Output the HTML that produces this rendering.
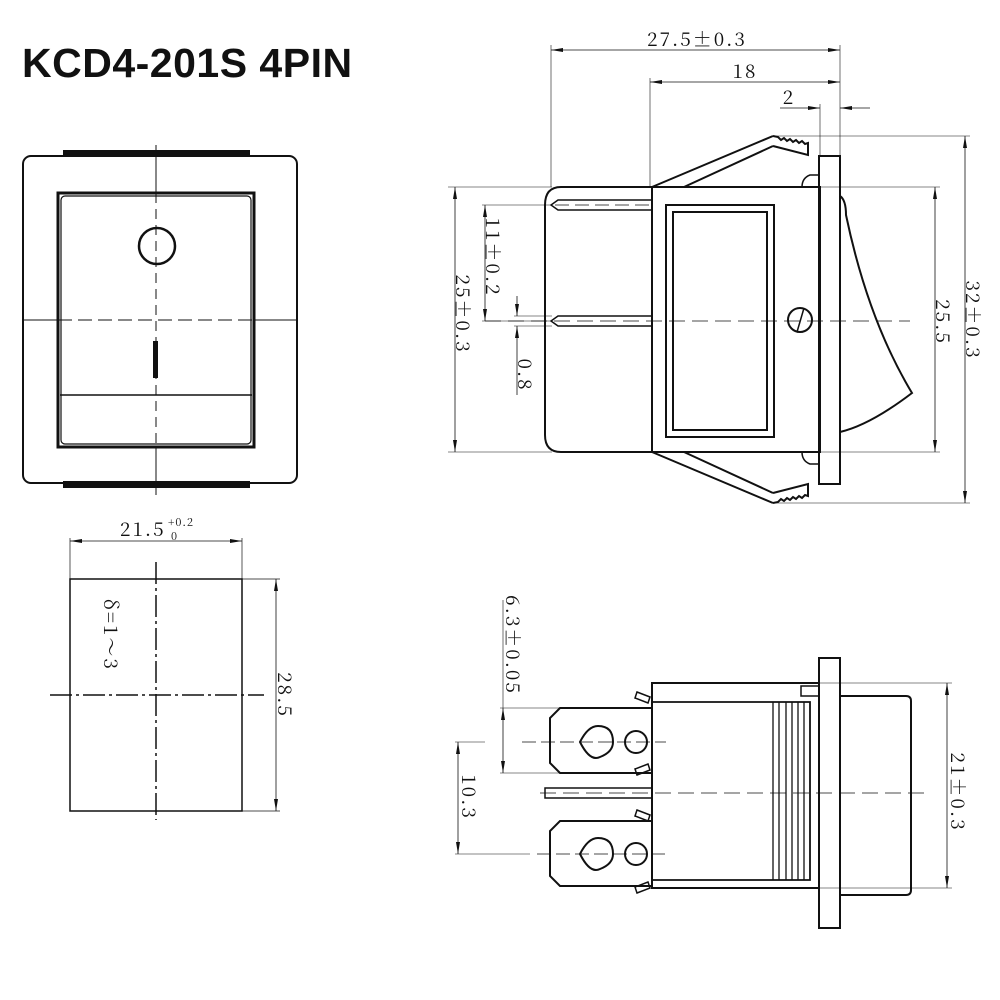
<!DOCTYPE html>
<html><head><meta charset="utf-8"><style>
html,body{margin:0;padding:0;background:#fff;}
svg{display:block;}
text{font-family:"Noto Serif CJK SC","Liberation Serif",serif;fill:#111;letter-spacing:2px;}
</style></head><body>
<svg width="1000" height="1000" viewBox="0 0 1000 1000" xmlns="http://www.w3.org/2000/svg">
<defs>
<marker id="a" viewBox="0 0 12 6" refX="12" refY="3" markerWidth="12" markerHeight="6" orient="auto-start-reverse" markerUnits="userSpaceOnUse"><path d="M0,1 L12,3 L0,5 Z" fill="#111"/></marker>
</defs>
<text x="22" y="77" style="font-family:'Liberation Sans',sans-serif;font-weight:bold;font-size:41px;letter-spacing:0.5px">KCD4-201S 4PIN</text>

<!-- FRONT VIEW -->
<g fill="none" stroke="#111">
<rect x="63" y="150" width="187" height="7" fill="#111" stroke="none"/>
<rect x="63" y="481" width="187" height="7" fill="#111" stroke="none"/>
<rect x="23" y="156" width="274" height="327" rx="8" stroke-width="2"/>
<rect x="58" y="193" width="196" height="254" stroke-width="3"/>
<rect x="61" y="196" width="190" height="248" rx="4" stroke-width="1.2"/>
<line x1="60" y1="395" x2="252" y2="395" stroke-width="1.5"/>
<circle cx="157" cy="246" r="18" stroke-width="2.5"/>
<rect x="153" y="341" width="5" height="37" fill="#111" stroke="none"/>
<line x1="156" y1="145" x2="156" y2="193" stroke-width="1"/>
<line x1="156" y1="193" x2="156" y2="447" stroke-width="1" stroke-dasharray="10,6"/>
<line x1="156" y1="447" x2="156" y2="495" stroke-width="1"/>
<line x1="23" y1="320" x2="58" y2="320" stroke-width="1"/>
<line x1="58" y1="320" x2="254" y2="320" stroke-width="1" stroke-dasharray="14,6"/>
<line x1="254" y1="320" x2="297" y2="320" stroke-width="1"/>
</g>

<!-- CUTOUT -->
<g fill="none" stroke="#111">
<rect x="70" y="579" width="172" height="232" stroke-width="1.5"/>
<line x1="156" y1="562" x2="156" y2="820" stroke-width="1.5" stroke-dasharray="22,4,3,4"/>
<line x1="50" y1="695" x2="264" y2="695" stroke-width="1.5" stroke-dasharray="22,4,3,4"/>
<line x1="70" y1="538" x2="70" y2="579" stroke-width="0.7"/>
<line x1="242" y1="538" x2="242" y2="579" stroke-width="0.7"/>
<line x1="70" y1="541" x2="242" y2="541" stroke-width="0.8" marker-start="url(#a)" marker-end="url(#a)"/>
<line x1="242" y1="579" x2="280" y2="579" stroke-width="0.7"/>
<line x1="242" y1="811" x2="280" y2="811" stroke-width="0.7"/>
<line x1="276" y1="579" x2="276" y2="811" stroke-width="0.8" marker-start="url(#a)" marker-end="url(#a)"/>
</g>
<text x="120" y="536" font-size="19">21.5</text>
<text x="168" y="526" font-size="11" style="letter-spacing:1px">+0.2</text>
<text x="171" y="540" font-size="11">0</text>
<text transform="translate(278,695) rotate(90)" font-size="19" text-anchor="middle">28.5</text>
<text transform="translate(104,635) rotate(90)" font-size="19" text-anchor="middle">δ=1～3</text>

<!-- SIDE VIEW -->
<g fill="none" stroke="#111" stroke-width="2">
<path d="M652,187 L561,187 Q545,187 545,205 L545,435 Q545,452 561,452 L652,452"/>
<rect x="652" y="187" width="168" height="265"/>
<rect x="666" y="205" width="108" height="232"/>
<rect x="673" y="212" width="94" height="218"/>
<rect x="819" y="156" width="21" height="328"/>
<path d="M840,196 Q846,200 846,215 Q868,320 912,393 Q870,425 840,432"/>
<path d="M652,187 L773,136 M684,187 L773,146"/>
<path d="M773,136 L778,137 L781,140 L784,138 L787,141 L790,139 L793,142 L796,140 L799,143 L802,141 L805,144 L808,143 L808,155 L773,146"/>
<path d="M652,452 L773,503 M684,452 L773,493"/>
<path d="M773,503 L778,502 L781,499 L784,501 L787,498 L790,500 L793,497 L796,499 L799,496 L802,498 L805,495 L808,496 L808,484 L773,493"/>
<path d="M819,175 L810,175 Q802,178 802,187" stroke-width="1.5"/>
<path d="M819,464 L810,464 Q802,461 802,452" stroke-width="1.5"/>
<path d="M652,200 L558,200 L551,205 L558,210 L652,210" stroke-width="1.5"/>
<path d="M652,316 L558,316 L551,321 L558,326 L652,326" stroke-width="1.5"/>
<circle cx="800" cy="320" r="12" stroke-width="2"/>
<line x1="797" y1="332" x2="804" y2="308" stroke-width="1.5"/>
</g>
<g fill="none" stroke="#111" stroke-width="0.8">
<line x1="555" y1="205" x2="655" y2="205" stroke-dasharray="14,6"/>
<line x1="485" y1="321" x2="910" y2="321" stroke-dasharray="16,7"/>
<line x1="551" y1="45" x2="551" y2="187" stroke-width="0.6"/>
<line x1="650" y1="78" x2="650" y2="187" stroke-width="0.6"/>
<line x1="820" y1="104" x2="820" y2="156" stroke-width="0.6"/>
<line x1="840" y1="45" x2="840" y2="156" stroke-width="0.6"/>
<line x1="551" y1="50" x2="840" y2="50" marker-start="url(#a)" marker-end="url(#a)"/>
<line x1="650" y1="82" x2="840" y2="82" marker-start="url(#a)" marker-end="url(#a)"/>
<line x1="780" y1="108" x2="820" y2="108" marker-end="url(#a)"/>
<line x1="870" y1="108" x2="840" y2="108" marker-end="url(#a)"/>
<line x1="448" y1="187" x2="552" y2="187" stroke-width="0.6"/>
<line x1="448" y1="452" x2="552" y2="452" stroke-width="0.6"/>
<line x1="455" y1="187" x2="455" y2="452" marker-start="url(#a)" marker-end="url(#a)"/>
<line x1="482" y1="205" x2="552" y2="205" stroke-width="0.6"/>
<line x1="482" y1="321" x2="552" y2="321" stroke-width="0.6"/>
<line x1="485" y1="205" x2="485" y2="321" marker-start="url(#a)" marker-end="url(#a)"/>
<line x1="514" y1="326" x2="552" y2="326" stroke-width="0.6"/>
<line x1="514" y1="316" x2="552" y2="316" stroke-width="0.6"/>
<line x1="517" y1="296" x2="517" y2="316" marker-end="url(#a)"/>
<line x1="517" y1="395" x2="517" y2="326" marker-end="url(#a)"/>
<line x1="820" y1="187" x2="940" y2="187" stroke-width="0.6"/>
<line x1="820" y1="452" x2="940" y2="452" stroke-width="0.6"/>
<line x1="935" y1="187" x2="935" y2="452" marker-start="url(#a)" marker-end="url(#a)"/>
<line x1="773" y1="136" x2="970" y2="136" stroke-width="0.6"/>
<line x1="773" y1="503" x2="970" y2="503" stroke-width="0.6"/>
<line x1="965" y1="136" x2="965" y2="503" marker-start="url(#a)" marker-end="url(#a)"/>
</g>
<text x="697" y="46" font-size="19" text-anchor="middle">27.5±0.3</text>
<text x="745" y="78" font-size="19" text-anchor="middle">18</text>
<text x="789" y="104" font-size="19" text-anchor="middle">2</text>
<text transform="translate(456,314) rotate(90)" font-size="19" text-anchor="middle">25±0.3</text>
<text transform="translate(486,257) rotate(90)" font-size="19" text-anchor="middle">11±0.2</text>
<text transform="translate(518,375) rotate(90)" font-size="19" text-anchor="middle">0.8</text>
<text transform="translate(936,322) rotate(90)" font-size="19" text-anchor="middle">25.5</text>
<text transform="translate(966,320) rotate(90)" font-size="19" text-anchor="middle">32±0.3</text>

<!-- BOTTOM VIEW -->
<g fill="none" stroke="#111" stroke-width="2">
<rect x="819" y="658" width="21" height="270"/>
<rect x="652" y="683" width="167" height="205"/>
<path d="M652,702 L810,702 L810,880 L652,880" stroke-width="1.8"/>
<rect x="801" y="686" width="18" height="10" stroke-width="1.5"/>
<path d="M840,696 L906,696 Q911,696 911,701 L911,890 Q911,895 906,895 L840,895"/>
<path d="M652,708 L560,708 L550,718 L550,763 L560,773 L652,773"/>
<path d="M652,821 L560,821 L550,831 L550,876 L560,886 L652,886"/>
<path d="M652,788 L545,788 L545,798 L652,798" stroke-width="1.5"/>
<circle cx="636" cy="742" r="11"/>
<circle cx="636" cy="854" r="11"/>
<path d="M598,726 Q588,726 580,742 Q590,762 600,757 Q613,752 613,742 Q613,726 598,726 Z"/>
<path d="M598,838 Q588,838 580,854 Q590,874 600,869 Q613,864 613,854 Q613,838 598,838 Z"/>
<path d="M637,692 L650,697 L648,703 L635,698 Z" stroke-width="1.5"/>
<path d="M637,775 L650,770 L648,764 L635,769 Z" stroke-width="1.5"/>
<path d="M637,810 L650,815 L648,821 L635,816 Z" stroke-width="1.5"/>
<path d="M637,893 L650,888 L648,882 L635,887 Z" stroke-width="1.5"/>
</g>
<g fill="none" stroke="#111" stroke-width="1.3">
<line x1="773" y1="702" x2="773" y2="880"/><line x1="779" y1="702" x2="779" y2="880"/><line x1="786" y1="702" x2="786" y2="880"/><line x1="792" y1="702" x2="792" y2="880"/><line x1="798" y1="702" x2="798" y2="880"/><line x1="804" y1="702" x2="804" y2="880"/>
</g>
<g fill="none" stroke="#111" stroke-width="0.8">
<line x1="522" y1="742" x2="666" y2="742" stroke-dasharray="14,5"/>
<line x1="537" y1="854" x2="666" y2="854" stroke-dasharray="14,5"/>
<line x1="540" y1="793" x2="928" y2="793" stroke-dasharray="16,7"/>
<line x1="500" y1="708" x2="560" y2="708" stroke-width="0.6"/>
<line x1="500" y1="773" x2="560" y2="773" stroke-width="0.6"/>
<line x1="503" y1="708" x2="503" y2="773" marker-start="url(#a)" marker-end="url(#a)"/>
<line x1="503" y1="600" x2="503" y2="708" stroke-width="0.6"/>
<line x1="455" y1="742" x2="485" y2="742" stroke-width="0.6"/>
<line x1="455" y1="854" x2="530" y2="854" stroke-width="0.6"/>
<line x1="458" y1="742" x2="458" y2="854" marker-start="url(#a)" marker-end="url(#a)"/>
<line x1="820" y1="683" x2="952" y2="683" stroke-width="0.6"/>
<line x1="820" y1="888" x2="952" y2="888" stroke-width="0.6"/>
<line x1="947" y1="683" x2="947" y2="888" marker-start="url(#a)" marker-end="url(#a)"/>
</g>
<text transform="translate(506,645) rotate(90)" font-size="19" text-anchor="middle">6.3±0.05</text>
<text transform="translate(462,797) rotate(90)" font-size="19" text-anchor="middle">10.3</text>
<text transform="translate(951,792) rotate(90)" font-size="19" text-anchor="middle">21±0.3</text>
</svg>
</body></html>
